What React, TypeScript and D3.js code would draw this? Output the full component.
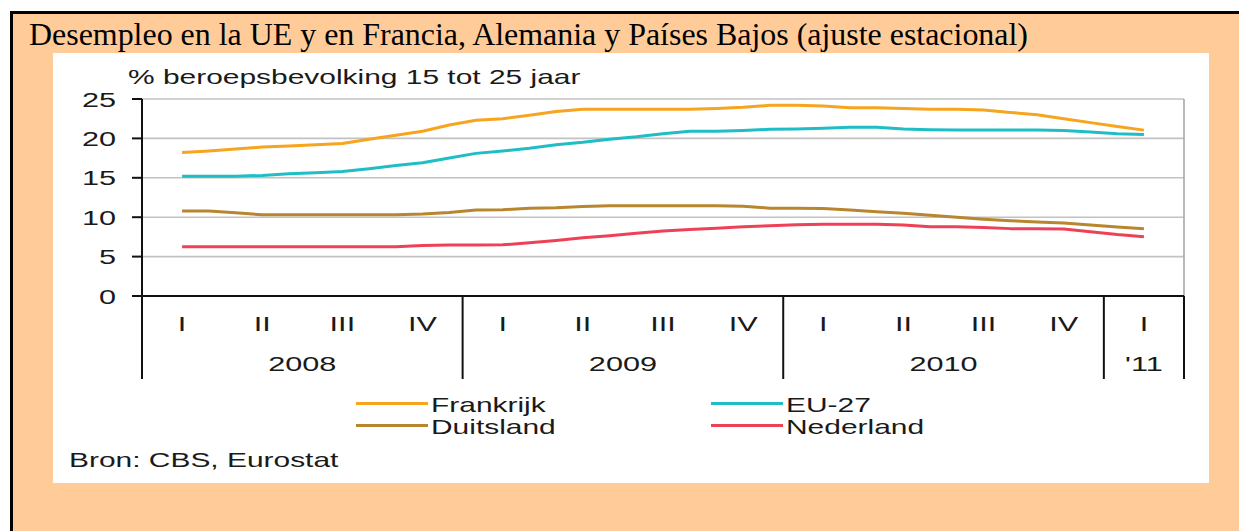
import React from "react";
import * as d3 from "d3";

// Monthly values, Feb 2008 .. Feb 2011 (37 points)
const frankrijk = [18.2, 18.4, 18.65, 18.9, 19.05, 19.2, 19.35, 19.9, 20.4, 20.9, 21.7, 22.3, 22.5, 22.95, 23.4, 23.7, 23.7, 23.7, 23.7, 23.7, 23.8, 23.95, 24.2, 24.2, 24.1, 23.9, 23.9, 23.8, 23.7, 23.7, 23.6, 23.3, 23.0, 22.5, 22.0, 21.5, 21.05];
const eu27 = [15.2, 15.2, 15.2, 15.3, 15.5, 15.65, 15.8, 16.15, 16.55, 16.9, 17.5, 18.1, 18.4, 18.75, 19.2, 19.5, 19.9, 20.2, 20.6, 20.9, 20.9, 21.0, 21.15, 21.2, 21.3, 21.4, 21.4, 21.2, 21.1, 21.07, 21.07, 21.07, 21.07, 21.0, 20.8, 20.6, 20.5];
const duitsland = [10.8, 10.8, 10.57, 10.3, 10.3, 10.3, 10.3, 10.3, 10.3, 10.4, 10.6, 10.9, 10.95, 11.15, 11.2, 11.35, 11.46, 11.46, 11.46, 11.46, 11.46, 11.4, 11.15, 11.13, 11.1, 10.9, 10.7, 10.5, 10.25, 10.0, 9.75, 9.56, 9.4, 9.25, 9.0, 8.75, 8.54];
const nederland = [6.26, 6.26, 6.26, 6.26, 6.26, 6.26, 6.26, 6.26, 6.26, 6.4, 6.47, 6.47, 6.5, 6.75, 7.05, 7.4, 7.65, 7.95, 8.25, 8.45, 8.6, 8.8, 8.9, 9.05, 9.1, 9.1, 9.1, 9.0, 8.8, 8.8, 8.7, 8.55, 8.55, 8.5, 8.15, 7.8, 7.53];
const firstMonth = 1; // February 2008 (month index from Jan 2008)

const quarterLabels = ["I", "II", "III", "IV", "I", "II", "III", "IV", "I", "II", "III", "IV", "I"];
const yearLabels = ["2008", "2009", "2010", "'11"];
const yearStarts = [0, 4, 8, 12];
const yearEnds = [4, 8, 12, 13];
const yTicks = [0, 5, 10, 15, 20, 25];

const seriesNames = ["Frankrijk", "EU-27", "Duitsland", "Nederland"];
const seriesColors = ["#F7A41E", "#1FBDC6", "#B8862E", "#EE4157"];
const seriesData = [frankrijk, eu27, duitsland, nederland];
const drawOrder = [3, 2, 1, 0];

const title = "Desempleo en la UE y en Francia, Alemania y Países Bajos (ajuste estacional)";
const subtitle = "% beroepsbevolking 15 tot 25 jaar";
const source = "Bron: CBS, Eurostat";

const SX = 1.46;
const SANS = "'Liberation Sans', Arial, sans-serif";
const INK = "#1a1a1a";

function SText({ x, y, anchor = "start", size = 20.5, children }: any) {
  return (
    <text
      transform={`translate(${x},${y}) scale(${SX},1)`}
      textAnchor={anchor}
      fontFamily={SANS}
      fontSize={size}
      fill={INK}
    >
      {children}
    </text>
  );
}

export default function App() {
  const x = d3.scaleLinear().domain([0, 13]).range([142, 1184]);
  const y = d3.scaleLinear().domain([0, 25]).range([296, 99]);
  const axisBottom = 379;

  const line = d3
    .line<number>()
    .x((_, i) => x((firstMonth + i + 0.5) / 3))
    .y((d) => y(d));

  const legendPos = [
    { lx: 356, ly: 403.5 },
    { lx: 711, ly: 403.5 },
    { lx: 356, ly: 425.5 },
    { lx: 711, ly: 425.5 },
  ];

  return (
    <svg
      width={1239}
      height={531}
      style={{ position: "absolute", left: 0, top: 0, background: "#fff" }}
    >
      {/* outer shaded frame */}
      <rect x={11.5} y={12.5} width={1300} height={600} fill="#FFCC99" stroke="#000" strokeWidth={3} />

      <text
        x={29}
        y={45}
        fontFamily="'Liberation Serif', 'Times New Roman', serif"
        fontSize={31.5}
        textLength={999}
        lengthAdjust="spacingAndGlyphs"
        fill="#000"
      >
        {title}
      </text>

      {/* white chart panel */}
      <rect x={53} y={53} width={1156} height={430} fill="#fff" />

      <SText x={128} y={84}>{subtitle}</SText>

      {/* grid lines */}
      {yTicks.filter((t) => t > 0).map((t) => (
        <line key={t} x1={x(0)} x2={x(13)} y1={y(t)} y2={y(t)} stroke="#c2c2c2" strokeWidth={1.6} />
      ))}
      <line x1={x(13)} x2={x(13)} y1={y(25)} y2={y(0)} stroke="#a8a8a8" strokeWidth={1.6} />

      {/* y ticks and labels */}
      {yTicks.map((t) => (
        <g key={"t" + t}>
          <line x1={132} x2={x(0)} y1={y(t)} y2={y(t)} stroke="#111" strokeWidth={2} />
          <SText x={116} y={y(t) + 7.5} anchor="end" size={21}>{String(t)}</SText>
        </g>
      ))}

      {/* series */}
      {drawOrder.map((k) => (
        <path
          key={seriesNames[k]}
          d={line(seriesData[k]) || ""}
          fill="none"
          stroke={seriesColors[k]}
          strokeWidth={3}
          strokeLinejoin="round"
        />
      ))}

      {/* axes */}
      <line x1={x(0)} x2={x(0)} y1={y(25)} y2={axisBottom} stroke="#111" strokeWidth={2} />
      <line x1={132} x2={x(13)} y1={y(0)} y2={y(0)} stroke="#111" strokeWidth={2} />
      {yearEnds.map((e) => (
        <line key={"d" + e} x1={x(e)} x2={x(e)} y1={y(0)} y2={axisBottom} stroke="#111" strokeWidth={2} />
      ))}

      {quarterLabels.map((q, i) => (
        <SText key={"q" + i} x={x(i + 0.5)} y={330.5} anchor="middle" size={21}>{q}</SText>
      ))}
      {yearLabels.map((yl, i) => (
        <SText key={"y" + i} x={x((yearStarts[i] + yearEnds[i]) / 2)} y={370.5} anchor="middle" size={21}>{yl}</SText>
      ))}

      {/* legend */}
      {[0, 1, 2, 3].map((k) => {
        const order = [0, 1, 2, 3];
        const p = legendPos[order[k]];
        const idx = [0, 1, 2, 3][k];
        return (
          <g key={"l" + k}>
            <line x1={p.lx} x2={p.lx + 72} y1={p.ly} y2={p.ly} stroke={seriesColors[idx]} strokeWidth={3} />
            <SText x={p.lx + 75} y={p.ly + 8}>{seriesNames[idx]}</SText>
          </g>
        );
      })}

      <SText x={69} y={467}>{source}</SText>
    </svg>
  );
}
